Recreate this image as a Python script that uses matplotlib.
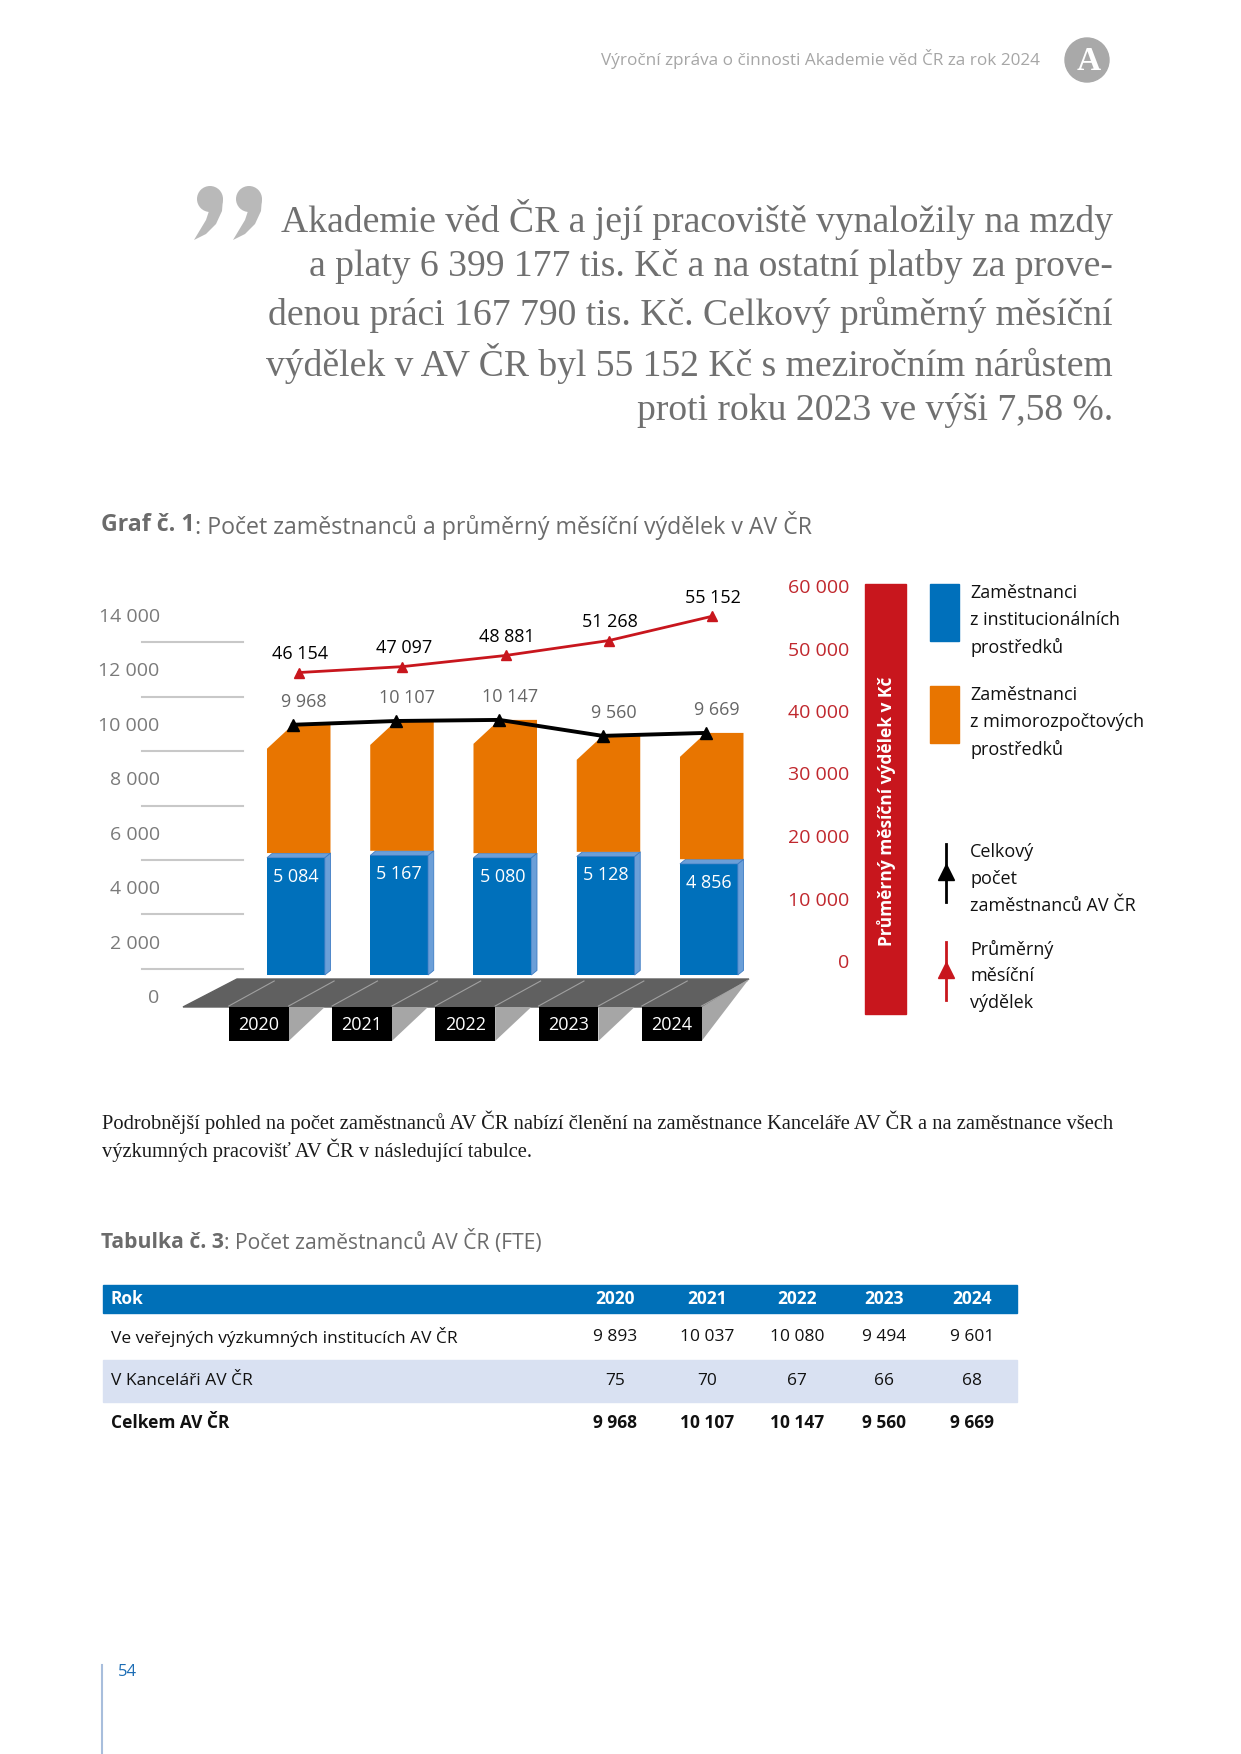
import numpy as np
import matplotlib
matplotlib.use("Agg")
import matplotlib.pyplot as plt
from matplotlib.patches import Rectangle, Polygon, Circle

########## DATA ##########

roky = ["2020", "2021", "2022", "2023", "2024"]
instit = [5084, 5167, 5080, 5128, 4856]          # zaměstnanci z institucionálních prostředků
celkem = [9968, 10107, 10147, 9560, 9669]        # celkový počet zaměstnanců
vydelek = [46154, 47097, 48881, 51268, 55152]    # průměrný měsíční výdělek
ve_vvi = [9893, 10037, 10080, 9494, 9601]
kancelar = [75, 70, 67, 66, 68]

ticks_emp = [0, 2000, 4000, 6000, 8000, 10000, 12000, 14000]
ticks_wage = [0, 10000, 20000, 30000, 40000, 50000, 60000]

quote = ["Akademie věd ČR a její pracoviště vynaložily na mzdy",
         "a platy 6 399 177 tis. Kč a na ostatní platby za prove-",
         "denou práci 167 790 tis. Kč. Celkový průměrný měsíční",
         "výdělek v AV ČR byl 55 152 Kč s meziročním nárůstem",
         "proti roku 2023 ve výši 7,58 %."]

BLUE = "#0070bb"
BLUE_LT = "#6b9fd8"
ORANGE = "#e87500"
RED = "#c8161d"
SANS = ["Open Sans", "DejaVu Sans"]
SERIF = ["Liberation Serif", "DejaVu Serif"]


def fmt(v):
    return f"{v:,}".replace(",", " ")


fig = plt.figure(figsize=(12.41, 17.54), dpi=100)
renderer = fig.canvas.get_renderer()


def fit(t, width):
    w = t.get_window_extent(renderer).width
    t.set_fontsize(t.get_fontsize() * width / w)
    return t


def title(ax_, x0, y, bold, rest, width):
    # bold "Graf č. 1" + regular rest, scaled to the given total width
    a = ax_.text(x0, y, bold, ha="left", va="center", color="#6b6b6b", family=SANS,
                 fontsize=15, fontweight="bold")
    b = ax_.text(x0, y, rest, ha="left", va="center", color="#6b6b6b", family=SANS, fontsize=15)
    tot = a.get_window_extent(renderer).width + b.get_window_extent(renderer).width
    fs = 15 * width / tot
    a.set_fontsize(fs)
    b.set_fontsize(fs)
    b.set_x(x0 + a.get_window_extent(renderer).width)


# background axes in page pixels
bg = fig.add_axes([0, 0, 1, 1])
bg.set_xlim(0, 1241)
bg.set_ylim(1754, 0)
bg.axis("off")
bg.set_zorder(0)

########## HEADER + QUOTE ##########

t = bg.text(1040, 59, "Výroční zpráva o činnosti Akademie věd ČR za rok 2024", ha="right", va="center",
            color="#a6a6a6", family=SANS, fontsize=12)
fit(t, 435)
bg.add_patch(Circle((1087, 60), 22, color="#a9a9a9"))
bg.text(1089, 61, "A", ha="center", va="center", color="white", family=SERIF,
        fontsize=24, fontweight="bold")

# big closing quote mark, two "9" shaped blobs
for cx in (210, 249):
    bg.add_patch(Circle((cx, 199), 13, color="#b9b9b9", lw=0))
    bg.add_patch(Polygon([(cx + 13, 198), (cx + 12, 211), (cx + 6, 224), (cx - 4, 234), (cx - 16, 240),
                          (cx - 10, 230), (cx - 4, 220), (cx - 1, 211), (cx - 6, 205)],
                         closed=True, color="#b9b9b9", lw=0))

qy = [219, 267, 315, 363, 411]
qt = [bg.text(1113, y, s, ha="right", va="center", color="#707070", family=SERIF, fontsize=24)
      for s, y in zip(quote, qy)]
fit(qt[2], 846)
for q in qt:
    q.set_fontsize(qt[2].get_fontsize())

########## GRAF TITLE ##########

title(bg, 101, 525, "Graf č. 1", ": Počet zaměstnanců a průměrný měsíční výdělek v AV ČR", 709)

########## CHART ##########

# page pixel -> data mapping
PX_X0, PX_PER_X = 299, 103.25
PX_Y0, PX_PER_K = 996, 27.21
PX_W0, PX_PER_WK = 961, 6.25


def dx(px):
    return (px - PX_X0) / PX_PER_X


def dy(py):
    return (PX_Y0 - py) / PX_PER_K * 1000


def wy(py):
    return (PX_W0 - py) / PX_PER_WK * 1000


L, R, T, B = 175, 760, 560, 1060
ax = fig.add_axes([L / 1241, 1 - B / 1754, (R - L) / 1241, (B - T) / 1754])
ax.set_zorder(1)
ax.patch.set_visible(False)
ax.set_xlim(dx(L), dx(R))
ax.set_ylim(dy(B), dy(T))
for sp in ax.spines.values():
    sp.set_visible(False)
ax.set_xticks([])
ax.set_yticks(ticks_emp, labels=[fmt(v) for v in ticks_emp])
ax.tick_params(axis="y", length=0, pad=11, labelsize=14, labelcolor="#7a7a7a")
for lb in ax.get_yticklabels():
    lb.set_family(SANS)

# offset grid lines of the back wall
for g in ticks_emp[1:]:
    ax.plot([dx(142), dx(243)], [g - 1000, g - 1000], color="#c8c8c8", lw=1.5, clip_on=False, zorder=1)

x = np.arange(len(roky))
w, s = 0.56, 0.055
FLOOR = dy(975)
CAP = 170
xl = x - 0.31
xr = xl + w

ax.bar(xl, np.array(instit) - FLOOR, bottom=FLOOR, width=w, align="edge", color=BLUE, zorder=3)
for i in range(len(roky)):
    # side and top of blue column
    ax.add_patch(Polygon([(xr[i], FLOOR), (xr[i] + s, FLOOR + CAP), (xr[i] + s, instit[i] + CAP),
                          (xr[i], instit[i])], closed=True, fc=BLUE_LT, ec="#3d7cc4", lw=0.6, zorder=3))
    ax.add_patch(Polygon([(xl[i], instit[i]), (xl[i] + s, instit[i] + CAP), (xr[i] + s, instit[i] + CAP),
                          (xr[i], instit[i])], closed=True, fc=BLUE_LT, ec="#3d7cc4", lw=0.6, zorder=3))
    # orange column with chamfered corner
    ax.add_patch(Polygon([(xl[i], instit[i] + CAP), (xl[i], celkem[i] - 880), (xl[i] + 0.25, celkem[i]),
                          (xr[i] + s, celkem[i]), (xr[i] + s, instit[i] + CAP)],
                         closed=True, fc=ORANGE, ec="none", zorder=3))
    ax.text(xl[i] + w / 2, instit[i], fmt(instit[i]), ha="center", va="top", color="white",
            family=SANS, fontsize=13, zorder=6,
            transform=ax.transData + matplotlib.transforms.ScaledTranslation(0, -10 / 100, fig.dpi_scale_trans))

# black line: total employees
xm = xl + 0.25
ax.plot(xm, celkem, color="black", lw=2.8, marker="^", ms=8, zorder=5)
for xi, v in zip(xm, celkem):
    ax.annotate(fmt(v), (xi, v), xytext=(8, 16.5), textcoords="offset points", ha="center", va="center",
                color="#666666", family=SANS, fontsize=13, zorder=6)

# floor
xb = x - 0.39
ax.fill([dx(237), dx(749), xb[-1] + 0.29, dx(183)], [dy(979), dy(979), dy(1007), dy(1007)],
        color="#606060", zorder=2, clip_on=False)
for i, rok in enumerate(roky):
    for xe in (xb[i] - 0.29, xb[i] + 0.29):
        ax.plot([xe, xe + 0.44], [dy(1006), dy(981)], color="#a0a0a0", lw=0.8, zorder=2)
    if i < len(roky) - 1:
        tri = [(xb[i] + 0.29, dy(1007)), (xb[i] + 0.64, dy(1007)), (xb[i] + 0.29, dy(1041))]
    else:
        tri = [(xb[i] + 0.29, dy(1007)), (dx(749), dy(979)), (xb[i] + 0.29, dy(1041))]
    ax.add_patch(Polygon(tri, closed=True, fc="#a6a6a6", ec="none", zorder=2))
    ax.add_patch(Rectangle((xb[i] - 0.29, dy(1041)), 0.58, dy(1007) - dy(1041), fc="black", ec="none", zorder=2))
    ax.text(xb[i], dy(1025), rok, ha="center", va="center", color="white", family=SANS, fontsize=13, zorder=4)

# red line: average monthly wage on second axis
ax2 = ax.twinx()
ax2.set_zorder(2)
ax2.patch.set_visible(False)
ax2.set_ylim(wy(B), wy(T))
for sp in ax2.spines.values():
    sp.set_visible(False)
ax2.set_yticks(ticks_wage, labels=[fmt(v) for v in ticks_wage])
ax2.tick_params(axis="y", length=0, pad=64, labelsize=14, labelcolor="#c0272d")
for lb in ax2.get_yticklabels():
    lb.set_ha("right")
    lb.set_family(SANS)
ax2.plot(x, vydelek, color=RED, lw=2, marker="^", ms=7, zorder=5)
for xi, v in zip(x, vydelek):
    ax2.annotate(fmt(v), (xi, v), xytext=(1, 13.5), textcoords="offset points", ha="center", va="center",
                 color="black", family=SANS, fontsize=13)

########## RED BAND + LEGEND ##########

bg.add_patch(Rectangle((865, 584), 41, 430, color=RED))
bg.text(886, 811, "Průměrný měsíční výdělek v Kč", rotation=90, ha="center", va="center", color="white",
        family=SANS, fontsize=12.5, fontweight="bold")

bg.add_patch(Rectangle((930, 584), 29, 57, color=BLUE))
bg.add_patch(Rectangle((930, 686), 29, 57, color=ORANGE))
leg = [(593, ["Zaměstnanci", "z institucionálních", "prostředků"]),
       (695, ["Zaměstnanci", "z mimorozpočtových", "prostředků"]),
       (852, ["Celkový", "počet", "zaměstnanců AV ČR"]),
       (949, ["Průměrný", "měsíční", "výdělek"])]
for y0, lines in leg:
    for j, s_ in enumerate(lines):
        bg.text(970, y0 + 27 * j, s_, ha="left", va="center", color="#111111", family=SANS, fontsize=13)

for y0, c in ((844, "black"), (942, RED)):
    bg.plot([946, 946], [y0, y0 + 58], color=c, lw=2)
    bg.plot(946, y0 + 28, marker="^", ms=11, color=c)

########## PARAGRAPH ##########

p1 = bg.text(102, 1122, "Podrobnější pohled na počet zaměstnanců AV ČR nabízí členění na zaměstnance "
             "Kanceláře AV ČR a na zaměstnance všech", ha="left", va="center", color="#1a1a1a",
             family=SERIF, fontsize=13)
fit(p1, 1011)
bg.text(102, 1150, "výzkumných pracovišť AV ČR v následující tabulce.", ha="left", va="center",
        color="#1a1a1a", family=SERIF, fontsize=p1.get_fontsize())

########## TABLE ##########

title(bg, 101, 1242, "Tabulka č. 3", ": Počet zaměstnanců AV ČR (FTE)", 443)

bg.add_patch(Rectangle((103, 1285), 914, 28, color="#0070b8"))
bg.add_patch(Rectangle((103, 1360), 914, 42, color="#d9e1f2"))
cols = [615, 707, 797, 884, 972]
rows = [("Rok", roky, 1299, "white", "bold"),
        ("Ve veřejných výzkumných institucích AV ČR", [fmt(v) for v in ve_vvi], 1337, "#111111", "normal"),
        ("V Kanceláři AV ČR", [fmt(v) for v in kancelar], 1381, "#111111", "normal"),
        ("Celkem AV ČR", [fmt(v) for v in celkem], 1423, "#111111", "bold")]
for lab, vals, y, c, wt in rows:
    bg.text(111, y, lab, ha="left", va="center", color=c, family=SANS, fontsize=12.5, fontweight=wt)
    for cx, v in zip(cols, vals):
        bg.text(cx, y, v, ha="center", va="center", color=c, family=SANS, fontsize=12.5, fontweight=wt)

########## PAGE NUMBER ##########

bg.plot([102, 102], [1665, 1754], color="#a8bedc", lw=1.5)
bg.text(118, 1672, "54", ha="left", va="center", color="#1c6db5", family=SANS, fontsize=12)

fig.savefig("out.png", dpi=100)
